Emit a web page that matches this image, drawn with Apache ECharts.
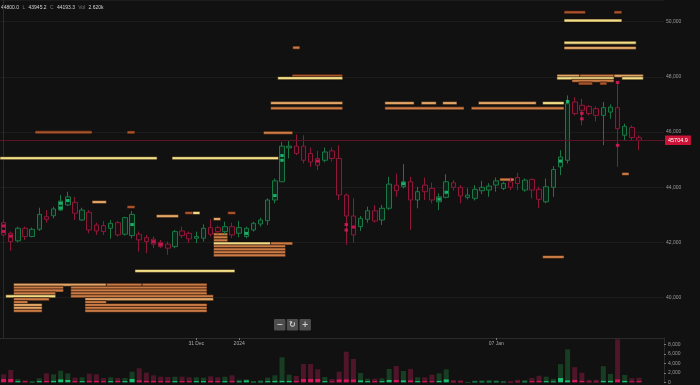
<!DOCTYPE html>
<html>
<head>
<meta charset="utf-8">
<script src="https://cdn.jsdelivr.net/npm/echarts@6/dist/echarts.min.js"></script>
<style>html,body{margin:0;padding:0;background:#111111;}#c{width:700px;height:385px;}</style>
</head>
<body>
<div id="c"></div>
<script>
// ---- DATA ----
// 4h candles from 26 Dec 2023 12:00 ; [open, close, low, high]
const ohlc = [
[42720,42275,42210,42840],[42335,42035,41700,42395],[42060,42515,42010,42575],[42515,42215,42095,42575],
[42215,42480,42190,42540],[42480,43020,42420,43260],[42935,42840,42720,43175],[42970,43215,42875,43295],
[43175,43500,43140,43720],[43360,43655,43320,43840],[43455,43060,42815,43655],[42815,43175,42780,43260],
[43095,42455,42335,43175],[42635,42420,42275,42720],[42610,42395,42275,42780],[42515,42695,42130,42815],
[42720,42275,42210,42780],[42300,42900,42250,42935],[42250,43020,42150,43140],[42300,42095,41670,42395],
[42175,42035,41615,42275],[42120,41940,41795,42215],[42010,41850,41795,42095],[41940,41795,41555,42035],
[41850,42395,41795,42455],[42420,42250,42155,42575],[42335,42130,41985,42395],[42155,42215,41975,42395],
[42155,42515,42035,42660],[42540,42300,42215,42840],[42540,42395,42300,42610],[42395,42575,42300,42755],
[42575,42275,42165,42720],[42335,42540,42190,42780],[42215,42515,42155,42575],[42455,42695,42395,42755],
[42670,42815,42575,42900],[42790,43540,42635,43600],[43540,44235,43420,44320],[44200,45490,44200,45645],
[45430,45490,45045,45705],[45490,45225,45165,45920],[45490,44980,44865,45885],[45225,44920,44740,45440],
[45045,44800,44620,45320],[44980,45280,44905,45440],[45320,45045,44935,45440],[45045,43720,43540,45525],
[43720,42960,41915,43780],[42960,42275,42000,43600],[42575,42875,42420,42960],[42840,43150,42720,43300],
[43150,42780,42720,43355],[42815,43240,42635,43360],[43240,44115,43175,44380],[44080,43875,43655,44500],
[44020,44200,43960,44840],[44200,43540,42455,44380],[43540,43840,43240,44020],[44080,43840,43540,44355],
[43960,43540,43420,44165],[43475,43655,43175,43780],[43635,44200,43600,44475],[44165,44000,43875,44260],
[44000,43685,43420,44080],[43635,43720,43560,43960],[43600,43925,43525,44080],[43875,44000,43755,44235],
[43900,44045,43655,44150],[44080,44235,43840,44355],[43960,44140,43900,44200],[44200,44000,43900,44355],
[44355,44140,43900,44525],[43900,44260,43840,44320],[44285,43900,43600,44320],[43925,43565,43240,44020],
[43475,44020,43420,44320],[44000,44645,43655,44765],[44740,45100,44440,45345],[44980,47030,44865,47330],
[47090,46670,46605,47265],[46970,46790,46245,47210],[46930,46670,46605,46970],[46850,46605,46390,46930],
[46605,46885,45525,47090],[46725,46905,46485,47005],[46885,46125,44740,47800],[45885,46210,45705,46305],
[46165,45800,45705,46245],[45800,45704.9,45345,45885]
];
const volume = [
1700,2620,700,430,210,850,1910,1700,2470,1910,980,1060,1830,1700,910,1060,910,910,2260,2980,
2040,1490,1190,1130,1190,1190,1060,1060,980,1280,1060,1190,1490,550,620,280,430,980,1490,5320,
1620,1340,3890,3890,2770,1130,700,2260,6510,4960,1980,770,770,850,2830,3470,2400,2830,1060,1060,
1620,1910,2770,490,430,100,340,430,490,430,280,210,550,490,910,1400,1190,700,3860,7010,
3220,2040,520,520,3430,1800,9150,1580,880,980
];
const volumeTaker = [
700,700,250,200,100,250,300,300,600,500,250,250,300,300,250,250,300,250,700,400,
300,300,250,250,250,250,250,250,250,300,250,250,300,200,400,100,150,250,300,300,
300,300,700,700,700,250,200,600,600,600,400,250,250,250,500,500,400,400,250,250,
250,300,600,150,150,50,150,150,150,150,100,100,150,150,250,300,250,200,900,400,
500,300,150,150,300,300,600,300,200,250
];
const lastPrice = 45704.9;
// bright footprint marks inside candles: [candle index, price]
const pocMarks = [
[0,42600],[0,42400],[1,42230],[8,43250],[8,43420],[9,43520],[18,42650],[21,42030],[22,41930],
[34,42330],[38,43700],[39,44980],[39,45150],[44,44950],[48,42650],[48,42450],[49,42560],[56,44130],
[61,43570],[62,43820],[78,44950],[79,47110],[81,46680],[81,46480],[86,45520],[86,47800]
];
// resting liquidity levels: [from index, to index, price, intensity 0..3]
const liquidity = [
[78.5,81.5,50340,0],[85.5,86.6,50340,0],[78.5,86.6,50040,3],[78.5,88.6,49240,3],[78.5,88.6,49050,2],
[77.5,80.7,48040,2],[80.7,85.5,48040,1],[85.5,89.6,48040,2],[77.5,85.5,47950,3],[86.6,89.6,47950,3],
[79.6,85.5,47860,1],[80.5,82.5,47760,0],[83.5,84.5,47760,0],
[37.4,47.5,47050,2],[53.4,57.5,47050,2],[58.5,60.6,47050,2],[61.5,63.5,47050,2],[66.5,74.6,47050,2],[75.5,78.5,47050,3],
[37.4,47.5,46860,1],[53.4,64.5,46860,1],[65.5,78.5,46860,1],
[40.4,47.5,48040,0],[38.4,47.5,47955,3],[40.5,41.5,49060,1],
[36.4,40.5,45975,1],[4.4,12.4,45990,0],[17.3,18.4,45990,0],
[-0.5,21.5,45055,3],[23.6,38.5,45055,3],
[12.4,14.4,43465,2],[17.3,18.4,43285,0],[21.4,24.5,42955,2],[25.4,26.5,43070,0],[26.5,27.5,43070,3],
[29.4,30.4,42850,2],[31.4,32.5,43070,0],
[29.4,31.4,42295,1],[29.4,31.4,42185,1],[29.4,31.4,42075,1],[29.4,37.4,41965,3],[37.4,40.5,41965,1],
[29.4,39.5,41860,1],[29.4,39.5,41750,1],[29.4,39.5,41645,1],[29.4,39.5,41535,1],
[18.4,32.4,40970,3],
[1.4,14.4,40470,2],[14.4,19.4,40470,1],[19.4,28.5,40470,1],
[1.4,8.4,40365,1],[9.4,28.5,40365,1],
[1.4,8.4,40260,1],[9.4,28.5,40260,1],
[1.4,7.3,40155,1],[9.4,28.5,40155,1],
[0.3,7.3,40050,3],[9.4,29.4,40050,1],
[1.4,6.4,39945,1],[11.4,29.4,39945,2],
[1.4,3.4,39840,1],[11.4,14.4,39840,1],
[1.4,5.4,39735,2],[11.4,28.5,39735,1],
[1.4,5.4,39630,2],[11.4,28.5,39630,1],
[1.4,5.4,39525,1],[11.4,28.5,39525,1],
[69.5,71.5,44280,1],[86.6,87.6,44485,1],[75.5,78.5,41475,1]
];
const xTickLabels = {27:'31 Dec', 33:'2024', 69:'07 Jan'};
const legendText = ['44800.0','L','43945.2','C','44193.3','Vol','2.620k'];

// categories: 4h steps (plus empty right margin)
const categories = [];
const t0 = Date.UTC(2023, 11, 26, 12);
for (let i = 0; i < 93; i++) categories.push(new Date(t0 + i * 4 * 3600e3).toISOString().slice(0, 16));

// ---- STYLE ----
const GREEN = '#1a7844', RED = '#8e1838';
const liqColors = ['#a8532c', '#c97a45', '#e2a566', '#f1dd86'];
const isUp = i => ohlc[i][1] >= ohlc[i][0];

const chart = echarts.init(document.getElementById('c'), null, {renderer: 'canvas'});
chart.setOption({
  animation: false,
  backgroundColor: '#111111',
  graphic: [
    {type: 'text', left: 1, top: 2, style: {
      text: `{v|${legendText[0]}} {k|${legendText[1]}} {v|${legendText[2]}} {k|${legendText[3]}} {v|${legendText[4]}} {k|${legendText[5]}} {v|${legendText[6]}}`,
      rich: {v: {fill: '#d4d4d4', fontSize: 5, fontFamily: 'Liberation Sans'}, k: {fill: '#777', fontSize: 5, fontFamily: 'Liberation Sans'}}
    }},
    {type: 'group', left: 274, top: 319, children: [
      {type: 'rect', shape: {x: 0, y: 0, width: 11.5, height: 11.5, r: 1}, style: {fill: '#4e4e4e'}},
      {type: 'rect', shape: {x: 12.7, y: 0, width: 11.5, height: 11.5, r: 1}, style: {fill: '#4e4e4e'}},
      {type: 'rect', shape: {x: 25.4, y: 0, width: 11.5, height: 11.5, r: 1}, style: {fill: '#4e4e4e'}},
      {type: 'text', x: 5.75, y: 6, style: {text: '−', fill: '#cfcfcf', font: 'bold 8px DejaVu Sans', align: 'center', verticalAlign: 'middle'}},
      {type: 'text', x: 18.45, y: 6, style: {text: '↻', fill: '#cfcfcf', font: 'bold 8px DejaVu Sans', align: 'center', verticalAlign: 'middle'}},
      {type: 'text', x: 31.15, y: 6, style: {text: '+', fill: '#cfcfcf', font: 'bold 8px DejaVu Sans', align: 'center', verticalAlign: 'middle'}}
    ]}
  ],
  grid: [
    {left: 0, top: 0, width: 664, height: 338},
    {left: 0, top: 338, width: 664, height: 44.3}
  ],
  xAxis: [
    {type: 'category', gridIndex: 0, data: categories, boundaryGap: true,
      axisLine: {show: true, lineStyle: {color: '#2b2b2b'}},
      axisTick: {show: true, length: 2, alignWithLabel: true, interval: i => xTickLabels[i] !== undefined, lineStyle: {color: '#777'}},
      axisLabel: {show: true, interval: i => xTickLabels[i] !== undefined, formatter: (v, i) => xTickLabels[i] || '',
        color: '#a8a8a8', fontSize: 5, margin: 3, fontFamily: 'Liberation Sans'},
      splitLine: {show: false}},
    {type: 'category', gridIndex: 1, data: categories, boundaryGap: true, show: false},
    {type: 'value', gridIndex: 0, min: -0.5, max: 92.5, show: false}
  ],
  yAxis: [
    {type: 'value', gridIndex: 0, position: 'right', min: 38540, max: 50786, splitNumber: 6, scale: true,
      axisLine: {show: true, lineStyle: {color: '#2b2b2b'}}, axisTick: {show: false},
      axisLabel: {color: '#9a9a9a', fontSize: 5, margin: 2, showMinLabel: false, showMaxLabel: false,
        fontFamily: 'Liberation Sans', formatter: v => (v % 2000 === 0 ? v.toLocaleString('en-US') : '')},
      splitLine: {show: true, lineStyle: {color: '#1c1c1c', width: 1}}},
    {type: 'value', gridIndex: 1, position: 'right', min: 0, max: 9426, interval: 2000,
      axisLine: {show: true, lineStyle: {color: '#2b2b2b'}},
      axisTick: {show: true, length: 2, lineStyle: {color: '#777'}},
      axisLabel: {color: '#9a9a9a', fontSize: 5, margin: 4, showMaxLabel: false, fontFamily: 'Liberation Sans',
        formatter: v => v.toLocaleString('en-US')},
      splitLine: {show: false}}
  ],
  series: [
    {type: 'custom', xAxisIndex: 2, yAxisIndex: 0, z: 2, clip: true,
      encode: {x: [0, 1], y: 2},
      data: liquidity,
      renderItem: (params, api) => {
        const a = api.coord([api.value(0), api.value(2)]);
        const b = api.coord([api.value(1), api.value(2)]);
        return {type: 'rect', shape: {x: a[0], y: a[1] - 1.5, width: b[0] - a[0], height: 3},
          style: {fill: liqColors[api.value(3)], stroke: 'rgba(25,10,2,0.9)', lineWidth: 0.6}};
      }},
    {type: 'candlestick', xAxisIndex: 0, yAxisIndex: 0, z: 3, barWidth: 5,
      data: ohlc,
      itemStyle: {color: '#0c2317', color0: '#220b13', borderColor: GREEN, borderColor0: RED, borderWidth: 1},
      markLine: {silent: true, symbol: ['none', 'none'], animation: false,
        lineStyle: {color: '#5e1226', width: 1, type: 'solid'},
        label: {show: true, position: 'end', formatter: String(lastPrice), color: '#ffffff', backgroundColor: '#cc1236',
          fontSize: 5.5, padding: [2, 3, 1.5, 3], distance: 1, fontFamily: 'Liberation Sans'},
        data: [{yAxis: lastPrice}]}},
    {type: 'scatter', xAxisIndex: 0, yAxisIndex: 0, z: 4, symbol: 'rect', symbolSize: [3.5, 3],
      data: pocMarks.map(m => ({value: m, itemStyle: {color: isUp(m[0]) ? '#22d07f' : '#e8195c'}}))},
    {type: 'bar', xAxisIndex: 1, yAxisIndex: 1, barWidth: 5, z: 2,
      data: volume.map((v, i) => ({value: v, itemStyle: {color: isUp(i) ? '#173e22' : '#4f1529'}}))},
    {type: 'bar', xAxisIndex: 1, yAxisIndex: 1, barWidth: 5, barGap: '-100%', z: 3,
      data: volumeTaker.map((v, i) => ({value: v, itemStyle: {color: isUp(i) ? '#1bbf74' : '#d4175a'}}))}
  ]
});
</script>
</body>
</html>
